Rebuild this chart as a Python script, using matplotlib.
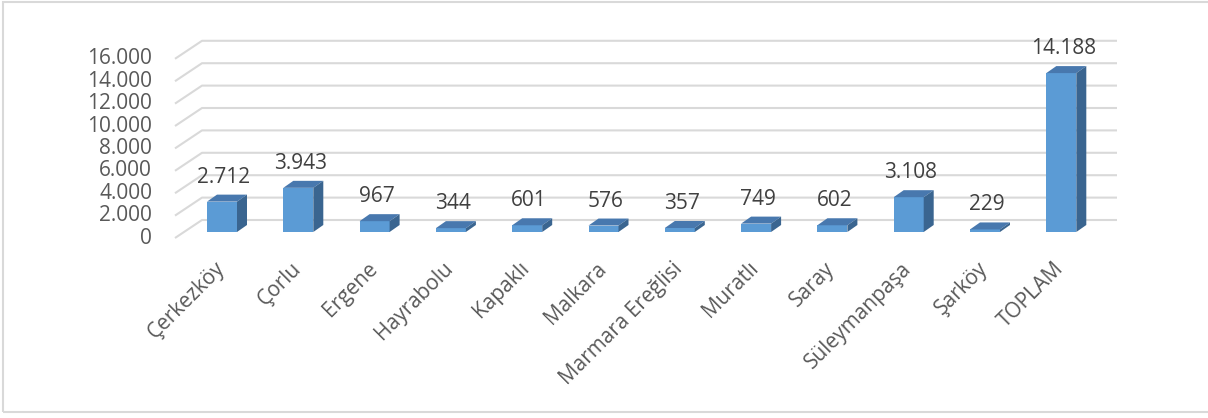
import matplotlib
matplotlib.use("Agg")
from matplotlib import pyplot as plt
from matplotlib.patches import Polygon, Rectangle

plt.rcParams['font.family'] = ['Open Sans', 'DejaVu Sans']

# data
districts = ["Çerkezköy", "Çorlu", "Ergene", "Hayrabolu", "Kapaklı", "Malkara",
             "Marmara Ereğlisi", "Muratlı", "Saray", "Süleymanpaşa", "Şarköy", "TOPLAM"]
values = [2712, 3943, 967, 344, 601, 576, 357, 749, 602, 3108, 229, 14188]
value_labels = ["2.712", "3.943", "967", "344", "601", "576", "357", "749", "602",
                "3.108", "229", "14.188"]
y_ticks = [0, 2000, 4000, 6000, 8000, 10000, 12000, 14000, 16000]
y_tick_labels = ["0", "2.000", "4.000", "6.000", "8.000", "10.000", "12.000", "14.000", "16.000"]

W, H = 1208, 418
# pixel calibration of the pseudo-3d frame
x_first = 222.0      # px, centre of first bar front face
x_step = 76.3        # px per category
y_zero = 180.0       # px from bottom, front floor line
y_scale = 0.0112     # px per unit
ux = 1 / x_step      # data units per px (x)
uy = 1 / y_scale     # data units per px (y)

front_col = "#5b9bd5"
top_col = "#4878ae"
side_col = "#3a6590"
grid_col = "#d9d9d9"
text_col = "#595959"

fig = plt.figure(figsize=(W / 100, H / 100), dpi=100)
ax = fig.add_axes([0, 0, 1, 1])
ax.set_xlim(-x_first * ux, (W - x_first) * ux)
ax.set_ylim(-y_zero * uy, (H - y_zero) * uy)
ax.axis("off")

# outer chart border
fig.patches.append(Rectangle((3 / W, 6 / H), 1.2, (H - 7.5) / H, transform=fig.transFigure,
                             fill=False, edgecolor="#d9d9d9", linewidth=1.5))

# gridlines: diagonal side wall + back wall
gx_front = (175 - x_first) * ux
gx_back = (202 - x_first) * ux
gx_end = (1117 - x_first) * ux
g_dy = 18 * uy
for t in y_ticks:
    ax.plot([gx_front, gx_back, gx_end], [t, t + g_dy, t + g_dy], color=grid_col,
            linewidth=1.5, solid_capstyle="butt", zorder=1)

for t, lab in zip(y_ticks, y_tick_labels):
    ax.text((152 - x_first) * ux, t, lab, ha="right", va="center", fontsize=15,
            color=text_col)

# bars
bw = 30 * ux
base = 6 * uy
ddx = 10 * ux
ddy = 7 * uy
xs = list(range(len(values)))
ax.bar(xs, values, width=bw, bottom=base, color=front_col, zorder=3)
for x, v, lab in zip(xs, values, value_labels):
    l, r = x - bw / 2, x + bw / 2
    top = base + v
    ax.add_patch(Polygon([(l, top), (r, top), (r + ddx, top + ddy), (l + ddx, top + ddy)],
                         closed=True, facecolor=top_col, edgecolor="none", zorder=3))
    ax.add_patch(Polygon([(r, base), (r + ddx, base + ddy), (r + ddx, top + ddy), (r, top)],
                         closed=True, facecolor=side_col, edgecolor="none", zorder=3))
    ax.text(x + 2 * ux, top + ddy + 12 * uy, lab, ha="center", va="baseline",
            fontsize=15, color="#404040", zorder=4)

# rotated category labels
for x, name in zip(xs, districts):
    ax.text(x - 8 * ux, -20 * uy, name, ha="right", va="top",
            rotation=45, rotation_mode="anchor", fontsize=15, color=text_col)

fig.savefig("out.png", dpi=100)
